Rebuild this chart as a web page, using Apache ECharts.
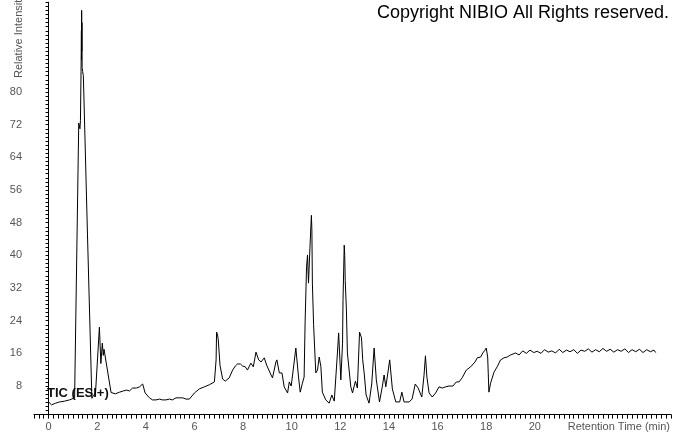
<!DOCTYPE html>
<html>
<head>
<meta charset="utf-8">
<script src="https://cdn.jsdelivr.net/npm/echarts@6/dist/echarts.min.js"></script>
<style>html,body{margin:0;padding:0;background:#fff;}#c{width:674px;height:434px;}</style>
</head>
<body>
<div id="c"></div>
<script>
var retentionTime = [0,0.12,0.29,0.45,0.66,0.86,1.07,1.24,1.29,1.31,1.335,1.35,1.355,1.36,1.365,1.37,1.38,1.40,1.43,1.60,1.78,1.84,1.93,2.09,2.15,2.21,2.25,2.28,2.57,2.75,2.92,3.08,3.20,3.33,3.45,3.61,3.74,3.87,3.97,4.15,4.27,4.42,4.56,4.68,4.83,4.97,5.09,5.24,5.38,5.52,5.65,5.79,6.00,6.20,6.41,6.61,6.82,6.89,6.91,6.95,6.98,7.05,7.16,7.27,7.43,7.57,7.68,7.77,7.89,7.98,8.09,8.18,8.32,8.42,8.53,8.60,8.64,8.74,8.87,8.97,9.15,9.21,9.35,9.39,9.49,9.60,9.69,9.83,9.90,9.98,10.06,10.17,10.28,10.35,10.44,10.51,10.55,10.61,10.65,10.69,10.75,10.79,10.81,10.83,10.85,10.90,10.99,11.06,11.13,11.20,11.26,11.40,11.54,11.65,11.75,11.88,11.93,12.02,12.09,12.11,12.16,12.18,12.20,12.25,12.29,12.43,12.50,12.62,12.70,12.79,12.87,12.92,12.98,13.06,13.18,13.29,13.39,13.48,13.61,13.73,13.80,13.87,13.93,14.03,14.14,14.28,14.44,14.53,14.62,14.83,14.95,15.08,15.20,15.35,15.44,15.50,15.56,15.65,15.78,15.92,16.06,16.19,16.33,16.47,16.63,16.77,16.88,17.01,17.18,17.36,17.54,17.63,17.77,17.86,17.95,18.00,18.06,18.11,18.18,18.32,18.45,18.59,18.73,18.86,19.00,19.21,19.35,19.5,19.65,19.8,19.95,20.1,20.25,20.4,20.55,20.7,20.85,21.0,21.15,21.3,21.45,21.6,21.75,21.9,22.05,22.2,22.35,22.5,22.65,22.8,22.95,23.1,23.25,23.4,23.55,23.7,23.85,24.0,24.15,24.3,24.45,24.6,24.75,24.9,24.97];
var intensity = [4.1,3.4,3.8,4.1,4.3,4.6,5.1,72.4,71,73,85,95,88,100,90,97,86,85,84,45,5.0,5.6,6.3,22.4,13.5,18.5,15.5,17.0,6.4,6.1,6.5,6.8,7.0,6.8,7.5,7.5,7.8,8.5,6.3,5.1,4.6,4.6,4.8,4.6,4.6,4.8,4.6,5.1,5.1,5.1,4.8,4.8,6.3,7.3,7.8,8.3,9.0,14.4,21.2,20.5,19.3,13.1,9.7,9.2,10.0,11.9,12.9,13.4,13.4,12.9,12.7,11.9,13.6,12.7,16.3,15.1,14.4,13.9,14.9,13.1,10.7,10.0,13.9,14.4,11.2,11.2,7.8,6.3,9.0,8.0,11.9,17.3,10.2,6.5,8.7,10.2,23.4,37.2,40.1,33.2,41.8,47.4,49.8,46,33.2,23.0,11.2,11.9,15.1,12.7,6.5,4.6,3.8,5.8,4.3,16.1,21.0,9.5,18.5,29.1,42.5,40,33.9,26.6,16.1,7.8,6.3,9.2,7.5,21.2,19.8,14.4,11.2,5.8,3.8,8.5,17.3,9.5,4.1,8.0,10.7,7.8,10.2,14.4,7.3,4.1,4.1,6.5,4.1,4.1,4.8,8.5,7.5,5.3,10.5,15.4,10.2,6.3,5.3,6.3,7.8,7.5,7.8,8.0,8.0,9.0,9.0,10.0,11.9,12.7,13.9,14.9,15.1,16.1,16.8,17.3,15.1,6.5,8.7,11.4,12.7,14.4,14.9,15.1,15.6,16.1,15.6,16.6,16.0,16.8,16.2,16.5,16.0,16.9,16.3,16.6,16.1,17.0,16.2,16.8,16.4,16.9,16.0,16.8,16.5,17.1,16.3,16.9,16.4,17.2,16.5,17.0,16.3,16.9,16.5,17.1,16.2,16.9,16.4,17.0,16.2,16.9,16.4,16.8,16.2];
var xTickLabels = [0,2,4,6,8,10,12,14,16,18,20];
var yTickLabels = [8,16,24,32,40,48,56,64,72,80];

var data = retentionTime.map(function (t, i) { return [t, intensity[i]]; });
var chart = echarts.init(document.getElementById('c'), null, {renderer: 'canvas'});
var labelFont = 'Liberation Sans';
chart.setOption({
  animation: false,
  backgroundColor: '#fff',
  grid: {left: 34, right: 1.6, top: 2.2, bottom: 19.4},
  xAxis: {
    type: 'value', min: -0.6, max: 25.6, interval: 0.2,
    axisLine: {show: true, lineStyle: {color: '#000', width: 1}},
    axisTick: {show: true, length: 4, lineStyle: {color: '#000'}},
    splitLine: {show: false},
    axisLabel: {
      color: '#555', fontFamily: labelFont, fontSize: 11, margin: 7,
      showMinLabel: true, showMaxLabel: true,
      formatter: function (v) {
        var r = Math.round(v);
        if (Math.abs(v - r) < 1e-6 && xTickLabels.indexOf(r) >= 0) return String(r);
        return '';
      }
    }
  },
  yAxis: {
    type: 'value', min: 1, max: 102, interval: 1,
    axisLine: {show: true, lineStyle: {color: '#000', width: 1}},
    axisTick: {show: true, length: 3, lineStyle: {color: '#000'}},
    splitLine: {show: false},
    axisLabel: {
      color: '#555', fontFamily: labelFont, fontSize: 11, margin: 12,
      formatter: function (v) {
        var r = Math.round(v);
        return yTickLabels.indexOf(r) >= 0 ? String(r) : '';
      }
    }
  },
  series: [{
    type: 'line', data: data, showSymbol: false, symbol: 'none',
    lineStyle: {color: '#000', width: 1}, silent: true
  }],
  graphic: [
    {type: 'text', left: 377, top: 4, style: {text: 'Copyright NIBIO All Rights reserved.', fill: '#000', font: '18px "Liberation Sans"'}},
    {type: 'text', left: 47, top: 387, style: {text: 'TIC (ESI+)', fill: '#111', font: 'bold 13px "Liberation Sans"'}},
    {type: 'text', right: 4, top: 421, style: {text: 'Retention Time (min)', fill: '#555', font: '11px "Liberation Sans"'}},
    {type: 'text', x: 13, y: 78, rotation: Math.PI / 2, style: {text: 'Relative Intensity', fill: '#555', font: '11px "Liberation Sans"', textVerticalAlign: 'top'}}
  ]
});
</script>
</body>
</html>
